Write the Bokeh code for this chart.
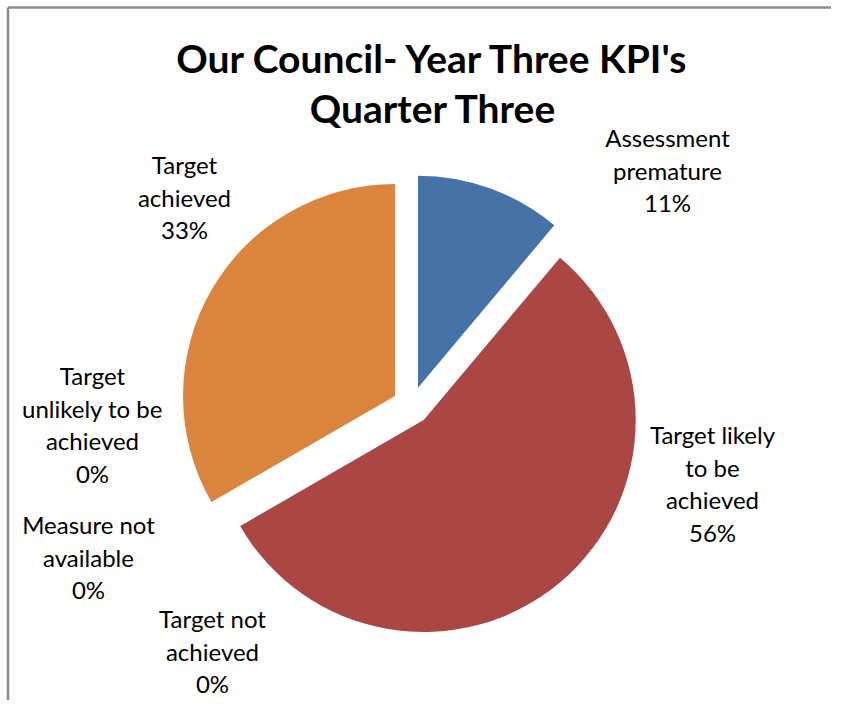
import math
from bokeh.plotting import figure
from bokeh.models import ColumnDataSource, Range1d
from bokeh.core.properties import value
from bokeh.embed import file_html
from bokeh.resources import INLINE

# ---- data ----
title_lines = ["Our Council- Year Three KPI's", "Quarter Three"]
categories = ["Assessment premature", "Target likely to be achieved", "Target not achieved",
              "Measure not available", "Target unlikely to be achieved", "Target achieved"]
counts = [1, 5, 0, 0, 0, 3]
label_text = ["Assessment\npremature\n11%", "Target likely\nto be\nachieved\n56%",
              "Target not\nachieved\n0%", "Measure not\navailable\n0%",
              "Target\nunlikely to be\nachieved\n0%", "Target\nachieved\n33%"]
colors = ["#4572A7", "#AA4643", "#89A54E", "#71588F", "#4198AF", "#DB843D"]

# ---- layout (pixel-like data space) ----
W, H = 831, 700
cx, cy = 411, 295      # pie centre
R = 212                # radius
explode = 19           # explosion distance
# label anchor (centre x, first line centre y)
label_pos = [(667, 563), (712, 266), (212, 82), (88, 176), (92, 325), (184, 536)]
line_step = 32.5
label_font = value("Lato")

p = figure(width=W, height=H, x_range=Range1d(0, W), y_range=Range1d(0, H),
           output_backend="svg", toolbar_location=None, min_border=0,
           background_fill_color="white", border_fill_color="white")
p.outline_line_color = None
p.axis.visible = False
p.grid.visible = False

total = sum(counts)
xs, ys, sa, ea, col = [], [], [], [], []
cum = 0.0
for c, clr in zip(counts, colors):
    frac0 = cum / total
    cum += c
    frac1 = cum / total
    if c == 0:
        continue
    a0 = math.pi / 2 - 2 * math.pi * frac0
    a1 = math.pi / 2 - 2 * math.pi * frac1
    mid = (a0 + a1) / 2
    xs.append(cx + explode * math.cos(mid))
    ys.append(cy + explode * math.sin(mid))
    sa.append(a0)
    ea.append(a1)
    col.append(clr)

src = ColumnDataSource(dict(x=xs, y=ys, sa=sa, ea=ea, color=col))
p.wedge(x="x", y="y", radius=R, start_angle="sa", end_angle="ea", direction="clock",
        fill_color="color", line_color=None, source=src)

# labels
tx, ty, tt = [], [], []
for txt, (lx, ly) in zip(label_text, label_pos):
    for i, line in enumerate(txt.split("\n")):
        tx.append(lx)
        ty.append(ly - i * line_step)
        tt.append(line)
p.text(x=tx, y=ty, text=tt, text_align="center", text_baseline="middle",
       text_font=label_font, text_font_size="24px", text_color="#000000")

# title
p.text(x=[433, 433], y=[643, 593], text=title_lines, text_align="center",
       text_baseline="middle", text_font=value("Lato"), text_font_style="bold",
       text_font_size="39px", text_color="#000000")

# chart border (left and top)
p.segment(x0=[7.5, 7.5], y0=[0, 693], x1=[7.5, W], y1=[693, 693],
          line_color="#8a8a8a", line_width=2.5)

open("out.html", "w").write(file_html(p, INLINE))
